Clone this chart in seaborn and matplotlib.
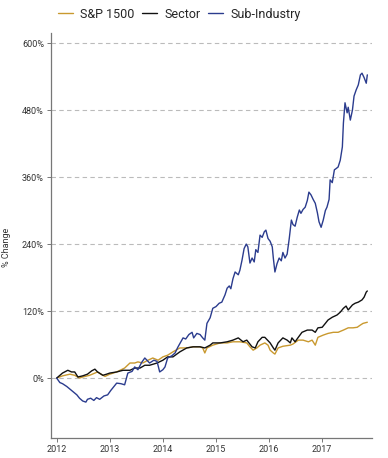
import pandas as pd
import matplotlib
matplotlib.use("Agg")
import matplotlib.pyplot as plt
import seaborn as sns

# values (decimal year, % change)
sp_years = [2012.00, 2012.11, 2012.25, 2012.34, 2012.43, 2012.49, 2012.62, 2012.72, 2012.77, 2012.87, 2012.91,
            2013.00, 2013.13, 2013.28, 2013.38, 2013.47, 2013.53, 2013.62, 2013.72, 2013.81, 2013.91,
            2014.00, 2014.09, 2014.19, 2014.32, 2014.45, 2014.57, 2014.70, 2014.75, 2014.79, 2014.83, 2014.94,
            2015.08, 2015.21, 2015.32, 2015.45, 2015.58, 2015.64, 2015.70, 2015.77, 2015.83, 2015.92, 2015.98,
            2016.02, 2016.08, 2016.11, 2016.17, 2016.26, 2016.40, 2016.45, 2016.55, 2016.64, 2016.74, 2016.81,
            2016.87, 2016.92, 2017.02, 2017.11, 2017.21, 2017.30, 2017.40, 2017.49, 2017.58, 2017.66, 2017.72,
            2017.77, 2017.85]
sp_pct = [0, 4, 7, 5, 0, 2, 5, 9, 11, 5, 3,
          7, 11, 18, 27, 27, 29, 27, 32, 36, 32,
          38, 41, 47, 54, 54, 56, 56, 54, 45, 54, 59,
          63, 63, 65, 65, 63, 56, 50, 54, 59, 63, 59,
          50, 45, 43, 54, 57, 59, 61, 68, 68, 65, 68,
          59, 73, 77, 80, 82, 82, 86, 90, 90, 91, 95,
          98, 100]

sector_years = [2012.00, 2012.11, 2012.21, 2012.28, 2012.34, 2012.40, 2012.49, 2012.58, 2012.66, 2012.72, 2012.77,
                2012.87, 2012.94, 2013.00, 2013.13, 2013.25, 2013.38, 2013.47, 2013.57, 2013.66, 2013.75, 2013.89,
                2014.00, 2014.09, 2014.19, 2014.32, 2014.45, 2014.57, 2014.70, 2014.79, 2014.89, 2014.94,
                2015.08, 2015.21, 2015.32, 2015.42, 2015.51, 2015.58, 2015.68, 2015.74, 2015.79, 2015.87, 2015.92,
                2016.02, 2016.08, 2016.11, 2016.17, 2016.26, 2016.34, 2016.40, 2016.43, 2016.49, 2016.55, 2016.62,
                2016.72, 2016.81, 2016.87, 2016.92, 2017.00, 2017.06, 2017.11, 2017.19, 2017.28, 2017.34, 2017.40,
                2017.45, 2017.49, 2017.57, 2017.62, 2017.68, 2017.75, 2017.79, 2017.83, 2017.85]
sector_pct = [0, 9, 14, 11, 11, 2, 4, 7, 13, 16, 11,
              5, 7, 9, 11, 14, 14, 18, 18, 23, 23, 27,
              32, 38, 38, 47, 54, 56, 56, 54, 59, 63,
              63, 65, 68, 72, 65, 68, 56, 54, 65, 73, 73,
              63, 54, 50, 63, 72, 68, 63, 72, 65, 73, 82,
              86, 86, 82, 90, 91, 98, 104, 109, 113, 118, 125,
              129, 122, 131, 134, 136, 140, 145, 154, 156]

sub_years = [2012.00, 2012.06, 2012.11, 2012.19, 2012.28, 2012.38, 2012.43, 2012.49, 2012.55, 2012.58, 2012.64,
             2012.70, 2012.75, 2012.81, 2012.89, 2012.96, 2013.02, 2013.08, 2013.13, 2013.21, 2013.28, 2013.34,
             2013.42, 2013.47, 2013.53, 2013.60, 2013.66, 2013.72, 2013.75, 2013.83, 2013.89, 2013.94,
             2014.00, 2014.04, 2014.09, 2014.17, 2014.23, 2014.28, 2014.34, 2014.38, 2014.43, 2014.49, 2014.55,
             2014.58, 2014.64, 2014.70, 2014.75, 2014.79, 2014.83, 2014.89, 2014.94,
             2015.00, 2015.06, 2015.11, 2015.17, 2015.21, 2015.25, 2015.28, 2015.32, 2015.36, 2015.42, 2015.45,
             2015.49, 2015.53, 2015.57, 2015.60, 2015.64, 2015.68, 2015.72, 2015.75, 2015.79, 2015.83, 2015.87,
             2015.91, 2015.94, 2015.98,
             2016.02, 2016.06, 2016.08, 2016.11, 2016.15, 2016.19, 2016.23, 2016.26, 2016.30, 2016.34, 2016.38,
             2016.42, 2016.45, 2016.49, 2016.53, 2016.57, 2016.60, 2016.64, 2016.68, 2016.72, 2016.75, 2016.79,
             2016.83, 2016.87, 2016.91, 2016.94, 2016.98,
             2017.02, 2017.06, 2017.09, 2017.13, 2017.15, 2017.19, 2017.23, 2017.26, 2017.30, 2017.34, 2017.38,
             2017.40, 2017.43, 2017.47, 2017.49, 2017.53, 2017.57, 2017.60, 2017.64, 2017.68, 2017.72, 2017.75,
             2017.79, 2017.83, 2017.85]
sub_pct = [0, -8, -10, -15, -22, -30, -36, -41, -43, -38, -36,
           -40, -35, -38, -32, -30, -22, -15, -9, -10, -12, 9,
           12, 20, 15, 28, 36, 30, 27, 32, 30, 11,
           15, 20, 36, 40, 45, 55, 65, 72, 70, 78, 82,
           72, 80, 78, 72, 68, 98, 108, 125,
           128, 134, 136, 149, 161, 165, 160, 178, 190, 185, 193,
           211, 232, 240, 235, 206, 215, 208, 230, 225, 256, 252,
           262, 265, 250,
           245, 235, 215, 190, 205, 215, 210, 225, 215, 222, 250,
           283, 275, 272, 288, 301, 295, 302, 306, 318, 333, 328,
           320, 313, 296, 280, 270,
           283, 300, 306, 320, 355, 350, 373, 375, 378, 390, 414,
           457, 493, 475, 485, 462, 480, 505, 516, 525, 543, 546,
           538, 528, 543]

series_names = ["S&P 1500", "Sector", "Sub-Industry"]
series_colors = ["#C9992F", "#111111", "#2B3C8E"]
y_ticks = [0, 120, 240, 360, 480, 600]
x_ticks = [2012, 2013, 2014, 2015, 2016, 2017]

df = pd.concat([
    pd.DataFrame({"year": sp_years, "pct": sp_pct, "series": series_names[0]}),
    pd.DataFrame({"year": sector_years, "pct": sector_pct, "series": series_names[1]}),
    pd.DataFrame({"year": sub_years, "pct": sub_pct, "series": series_names[2]}),
])

sns.set_theme(style="white")
plt.rcParams["font.family"] = ["Roboto", "DejaVu Sans"]

fig = plt.figure(figsize=(3.88, 4.58), dpi=100)
ax = fig.add_axes([0.131, 0.044, 0.828, 0.884])

sns.lineplot(data=df, x="year", y="pct", hue="series", hue_order=series_names,
             palette=dict(zip(series_names, series_colors)), estimator=None,
             sort=False, linewidth=1.0, ax=ax)

ax.set_xlim(2011.89, 2017.94)
ax.set_ylim(-107, 618)
ax.set_yticks(y_ticks)
ax.set_yticklabels([f"{v}%" for v in y_ticks])
ax.set_xticks(x_ticks)
ax.set_xticklabels([str(v) for v in x_ticks])
ax.yaxis.grid(True, linestyle=(0, (4, 3)), color="#BBBBBB", linewidth=0.8)
ax.xaxis.grid(False)
ax.set_axisbelow(True)

for side in ["top", "right"]:
    ax.spines[side].set_visible(False)
for side in ["left", "bottom"]:
    ax.spines[side].set_color("#777777")
    ax.spines[side].set_linewidth(0.9)

ax.tick_params(axis="both", labelsize=6.5, colors="#333333", length=3, width=0.7,
               direction="out", left=True, bottom=True, pad=2)
ax.tick_params(axis="both", color="#777777")
ax.set_xlabel("")
ax.set_ylabel("% Change", fontsize=6.5, color="#333333")
ax.yaxis.set_label_coords(-0.125, 0.47)

handles, labels = ax.get_legend_handles_labels()
ax.legend(handles, labels, loc="upper center", bbox_to_anchor=(0.40, 1.075), ncol=3,
          frameon=False, fontsize=9, handlelength=1.2, handletextpad=0.6,
          columnspacing=0.6, borderaxespad=0)

fig.savefig("out.png", dpi=100)
